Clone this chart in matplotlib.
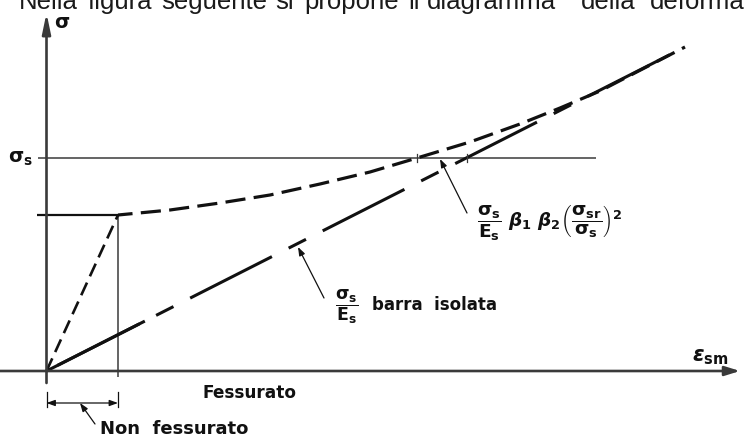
import matplotlib
matplotlib.use("Agg")
import matplotlib.pyplot as plt

plt.rcParams["mathtext.fontset"] = "custom"
plt.rcParams["mathtext.rm"] = "DejaVu Sans:bold"
plt.rcParams["mathtext.bf"] = "DejaVu Sans:bold"
plt.rcParams["mathtext.it"] = "DejaVu Sans:italic:bold"
plt.rcParams["lines.scale_dashes"] = False

# --- diagram values (strain units, stress units) -------------------------
eps_cr = 71.5            # strain at first cracking (bare section)
sig_sr = 156.0           # cracking stress sigma_sr
sig_s = 213.0            # service stress sigma_s

# uncracked branch
uncr_eps = [0.0, eps_cr]
uncr_sig = [0.0, sig_sr]

# bare bar (sigma / Es)
bare_eps = [0.0, 638.5]
bare_sig = [0.0, 324.0]

# cracked member with tension stiffening
ts_eps = [71.5, 123.5, 173.5, 223.5, 273.5, 323.5, 370.5, 423.5, 473.5, 513.5, 553.5, 638.5]
ts_sig = [156, 161, 168, 176, 187, 199, 213, 229, 247, 263, 280, 324]

eps_at_sig_s_ts = 370.5
eps_at_sig_s_bare = 420.5

# words of the running text above the diagram
intro_words = ["Nella", "figura", "seguente", "si", "propone", "il", "diagramma",
               "della", "deformazione"]
intro_x = [-27.5, 41.5, 114.5, 228.5, 257.5, 361.5, 380.5, 534.5, 603.5]

# --- figure ---------------------------------------------------------------
fig = plt.figure(figsize=(7.44, 4.43), dpi=100)
ax = fig.add_axes([0, 0, 1, 1])
ax.set_xlim(-46.5, 697.5)
ax.set_ylim(-72, 371)
ax.axis("off")

axis_col = "#3a3a3a"
ink = "#111111"

# coordinate axes with arrows
ax.annotate("", xy=(693.5, 0), xytext=(-46.5, 0),
            arrowprops=dict(arrowstyle="-|>,head_length=0.9,head_width=0.28",
                            lw=1.9, color=axis_col, shrinkA=0, shrinkB=0))
ax.annotate("", xy=(0, 358), xytext=(0, -12),
            arrowprops=dict(arrowstyle="-|>,head_length=1.2,head_width=0.25",
                            lw=1.9, color=axis_col, shrinkA=0, shrinkB=0))

# sigma_s reference line
ax.plot([-8.5, 549.5], [sig_s, sig_s], color=axis_col, lw=1.1, solid_capstyle="butt")

# cracking level and cracking strain guide lines
ax.plot([-9.5, eps_cr], [sig_sr, sig_sr], color=ink, lw=1.6, solid_capstyle="butt")
ax.plot([eps_cr, eps_cr], [sig_sr, -6], color=axis_col, lw=1.1, solid_capstyle="butt")

# uncracked branch (dashed)
ax.plot(uncr_eps, uncr_sig, color=ink, lw=1.9, linestyle=(0, (10, 5)), dash_capstyle="butt")

# tension-stiffening curve (dashed)
ax.plot(ts_eps, ts_sig, color=ink, lw=2.3, linestyle=(4, (14.5, 6)), dash_capstyle="butt")

# bare bar line: dash-dot pattern with a solid start at the origin
ax.plot(bare_eps, bare_sig, color=ink, lw=2.2, linestyle=(98, (66, 13.5, 14, 13.5)),
        dash_capstyle="butt")
frac_solid = 0.154
ax.plot([0, bare_eps[1] * frac_solid], [0, bare_sig[1] * frac_solid],
        color=ink, lw=2.2, solid_capstyle="butt")

# small ticks where lines cross sigma_s
for e in (eps_at_sig_s_ts, eps_at_sig_s_bare):
    ax.plot([e, e], [sig_s - 4, sig_s + 4], color=axis_col, lw=0.9)

# dimension for the uncracked strain range
for e in (0.0, eps_cr):
    ax.plot([e, e], [-21, -36], color=ink, lw=0.9)
ax.annotate("", xy=(0, -32), xytext=(eps_cr, -32),
            arrowprops=dict(arrowstyle="<|-|>,head_length=0.5,head_width=0.18",
                            lw=0.9, color=ink, shrinkA=0, shrinkB=0))

label_font = dict(family=["DejaVu Sans"], fontweight="bold", color=ink)

ax.annotate("", xy=(33.5, -32), xytext=(48.5, -53),
            arrowprops=dict(arrowstyle="-|>,head_length=0.5,head_width=0.18",
                            lw=0.9, color=ink, shrinkA=0, shrinkB=0))
ax.text(53.5, -58, "Non  fessurato", fontsize=13, va="center", ha="left", **label_font)
ax.text(155.5, -22, "Fessurato", fontsize=12.2, va="center", ha="left", **label_font)

# labels of the axes
ax.text(15.5, 349, r"$\mathrm{\sigma}$", fontsize=14, va="center", ha="center", color=ink)
ax.text(-26.5, 213, r"$\mathrm{\sigma_s}$", fontsize=14, va="center", ha="center", color=ink)
ax.text(663.5, 14, r"$\varepsilon_{\mathrm{sm}}$", fontsize=15, va="center", ha="center", color=ink)

# annotation of the bare bar line
ax.annotate("", xy=(251.5, 124), xytext=(277.5, 73),
            arrowprops=dict(arrowstyle="-|>,head_length=0.5,head_width=0.18",
                            lw=0.9, color=ink, shrinkA=0, shrinkB=0))
ax.text(288.5, 64, r"$\mathrm{\dfrac{\sigma_s}{E_s}}$", fontsize=12.5, va="center", ha="left", color=ink)
ax.text(325.5, 66, "barra  isolata", fontsize=12, va="center", ha="left", **label_font)

# annotation of the tension-stiffening offset
ax.annotate("", xy=(393.5, 212), xytext=(420.5, 158),
            arrowprops=dict(arrowstyle="-|>,head_length=0.5,head_width=0.18",
                            lw=0.9, color=ink, shrinkA=0, shrinkB=0))
ax.text(430.5, 149,
        r"$\mathrm{\dfrac{\sigma_s}{E_s}}\ \beta_1\ \beta_2\left(\dfrac{\mathrm{\sigma_{sr}}}{\mathrm{\sigma_s}}\right)^2$",
        fontsize=13.3, va="center", ha="left", color=ink)

# running text line above the diagram
for word, x in zip(intro_words, intro_x):
    ax.text(x, 362, word, fontsize=18.5, va="baseline", ha="left", color="#1a1a1a",
            family=["Liberation Sans", "DejaVu Sans"])

fig.savefig("out.png", dpi=100)
